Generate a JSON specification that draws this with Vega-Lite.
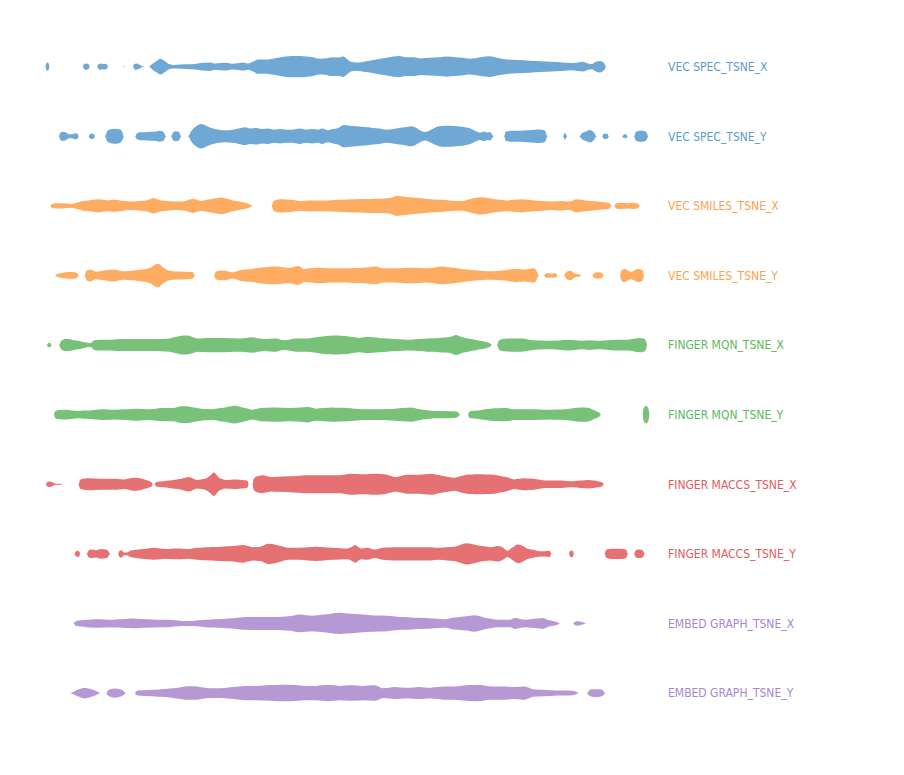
{
"$schema": "https://vega.github.io/schema/vega-lite/v6.json",
"padding": {"left": 40, "top": 37, "right": 0, "bottom": 0},
"background": "white",
"config": {"view": {"stroke": null}},
"spacing": 9.6,
"datasets": {"names": [
{"s":1,"series":"VEC SPEC_TSNE_X"},{"s":2,"series":"VEC SPEC_TSNE_Y"},{"s":3,"series":"VEC SMILES_TSNE_X"},{"s":4,"series":"VEC SMILES_TSNE_Y"},{"s":5,"series":"FINGER MQN_TSNE_X"},{"s":6,"series":"FINGER MQN_TSNE_Y"},{"s":7,"series":"FINGER MACCS_TSNE_X"},{"s":8,"series":"FINGER MACCS_TSNE_Y"},{"s":9,"series":"EMBED GRAPH_TSNE_X"},{"s":10,"series":"EMBED GRAPH_TSNE_Y"}
]},
"data": {"values": [
{"s":1,"x":45.5,"w":0},{"s":1,"x":46.3,"w":3},{"s":1,"x":47.5,"w":3.8},{"s":1,"x":48.7,"w":3},{"s":1,"x":49.5,"w":0},
{"s":1,"x":82.7,"w":0},{"s":1,"x":84,"w":2.5},{"s":1,"x":86.3,"w":3},{"s":1,"x":88.5,"w":2.5},{"s":1,"x":89.8,"w":0},
{"s":1,"x":97,"w":0},{"s":1,"x":98.5,"w":2.5},{"s":1,"x":101,"w":3},{"s":1,"x":103,"w":2.5},{"s":1,"x":105,"w":2.8},{"s":1,"x":107,"w":2.2},{"s":1,"x":108.2,"w":0},
{"s":1,"x":122.9,"w":0},{"s":1,"x":123.7,"w":0.6},{"s":1,"x":124.5,"w":0},
{"s":1,"x":133,"w":0},{"s":1,"x":134.2,"w":2.5},{"s":1,"x":136.5,"w":3},{"s":1,"x":139,"w":2.2},{"s":1,"x":141,"w":1.2},{"s":1,"x":144.5,"w":0},
{"s":1,"x":148.5,"w":0},{"s":1,"x":152,"w":2.5},{"s":1,"x":156,"w":5},{"s":1,"x":160.5,"w":7.2},{"s":1,"x":165,"w":5},{"s":1,"x":169,"w":2.5},{"s":1,"x":173,"w":1.8},{"s":1,"x":176,"w":2},{"s":1,"x":185,"w":2.4},{"s":1,"x":195,"w":2.7},{"s":1,"x":203,"w":3.6},{"s":1,"x":210,"w":4},{"s":1,"x":215,"w":3},{"s":1,"x":220,"w":3.4},{"s":1,"x":226,"w":3.6},{"s":1,"x":232,"w":2.8},{"s":1,"x":238,"w":3.3},{"s":1,"x":243,"w":3.8},{"s":1,"x":248,"w":3},{"s":1,"x":253,"w":4.5},{"s":1,"x":258,"w":6.5},{"s":1,"x":263,"w":6.5},{"s":1,"x":270,"w":6.8},{"s":1,"x":278,"w":8},{"s":1,"x":286,"w":9.2},{"s":1,"x":296,"w":9.5},{"s":1,"x":306,"w":9.2},{"s":1,"x":313,"w":8.5},{"s":1,"x":320,"w":7.2},{"s":1,"x":326,"w":7.5},{"s":1,"x":332,"w":8.5},{"s":1,"x":338,"w":8.2},{"s":1,"x":343,"w":9.2},{"s":1,"x":347,"w":7},{"s":1,"x":351,"w":4.5},{"s":1,"x":356,"w":3.8},{"s":1,"x":366,"w":5},{"s":1,"x":376,"w":6.5},{"s":1,"x":388,"w":8.2},{"s":1,"x":399,"w":9.5},{"s":1,"x":406,"w":8.5},{"s":1,"x":413,"w":8.5},{"s":1,"x":421,"w":7.5},{"s":1,"x":430,"w":8},{"s":1,"x":440,"w":8.5},{"s":1,"x":447,"w":9},{"s":1,"x":455,"w":8.5},{"s":1,"x":462,"w":8},{"s":1,"x":470,"w":7.2},{"s":1,"x":480,"w":8.5},{"s":1,"x":490,"w":9.3},{"s":1,"x":497,"w":8},{"s":1,"x":505,"w":6.8},{"s":1,"x":518,"w":6},{"s":1,"x":530,"w":5.5},{"s":1,"x":540,"w":5},{"s":1,"x":552,"w":4.5},{"s":1,"x":562,"w":4},{"s":1,"x":571,"w":3.5},{"s":1,"x":578,"w":4},{"s":1,"x":583,"w":4.5},{"s":1,"x":588,"w":3},{"s":1,"x":592,"w":2.5},{"s":1,"x":596,"w":4.5},{"s":1,"x":600,"w":5.3},{"s":1,"x":604,"w":3.5},{"s":1,"x":606,"w":0},
{"s":2,"x":59,"w":0},{"s":2,"x":60.5,"w":3.5},{"s":2,"x":63,"w":4.3},{"s":2,"x":66,"w":3.5},{"s":2,"x":69,"w":2},{"s":2,"x":72,"w":2},{"s":2,"x":75,"w":3},{"s":2,"x":77.5,"w":2.5},{"s":2,"x":78.8,"w":0},
{"s":2,"x":88.5,"w":0},{"s":2,"x":90,"w":2.2},{"s":2,"x":91.8,"w":2.7},{"s":2,"x":93.6,"w":2.2},{"s":2,"x":95.2,"w":0},
{"s":2,"x":105,"w":0},{"s":2,"x":107,"w":4.5},{"s":2,"x":110,"w":6.2},{"s":2,"x":114.5,"w":6.8},{"s":2,"x":119,"w":6.3},{"s":2,"x":122,"w":4.5},{"s":2,"x":124,"w":0},
{"s":2,"x":135,"w":0},{"s":2,"x":137,"w":3},{"s":2,"x":140,"w":3.7},{"s":2,"x":145,"w":3.8},{"s":2,"x":150,"w":4.3},{"s":2,"x":155,"w":4.3},{"s":2,"x":159.5,"w":5},{"s":2,"x":163,"w":4.5},{"s":2,"x":166.5,"w":0},
{"s":2,"x":171,"w":0},{"s":2,"x":173,"w":3.5},{"s":2,"x":176,"w":4.7},{"s":2,"x":179,"w":3.8},{"s":2,"x":181.5,"w":0},
{"s":2,"x":188,"w":0},{"s":2,"x":191.4,"w":5},{"s":2,"x":196,"w":9},{"s":2,"x":201,"w":11},{"s":2,"x":207,"w":9},{"s":2,"x":213,"w":7},{"s":2,"x":219,"w":6},{"s":2,"x":225,"w":5.5},{"s":2,"x":233,"w":6},{"s":2,"x":239,"w":7},{"s":2,"x":245,"w":8},{"s":2,"x":250,"w":7},{"s":2,"x":256.5,"w":7.5},{"s":2,"x":262,"w":6.5},{"s":2,"x":268,"w":7},{"s":2,"x":274,"w":6},{"s":2,"x":280,"w":6.5},{"s":2,"x":286,"w":6},{"s":2,"x":292,"w":6},{"s":2,"x":300,"w":7},{"s":2,"x":306,"w":6},{"s":2,"x":312,"w":6.5},{"s":2,"x":318,"w":6},{"s":2,"x":322,"w":7},{"s":2,"x":328,"w":5.5},{"s":2,"x":333,"w":6.5},{"s":2,"x":338,"w":7.5},{"s":2,"x":344,"w":10},{"s":2,"x":350,"w":9.5},{"s":2,"x":356,"w":9},{"s":2,"x":362,"w":8.5},{"s":2,"x":367.5,"w":8},{"s":2,"x":373,"w":7.5},{"s":2,"x":379.5,"w":7},{"s":2,"x":387,"w":6},{"s":2,"x":393,"w":6.5},{"s":2,"x":399,"w":7.5},{"s":2,"x":405,"w":8},{"s":2,"x":411,"w":9},{"s":2,"x":415,"w":8},{"s":2,"x":419,"w":6},{"s":2,"x":425,"w":4},{"s":2,"x":431,"w":6},{"s":2,"x":439,"w":9},{"s":2,"x":445,"w":9.5},{"s":2,"x":451,"w":9.5},{"s":2,"x":457,"w":9},{"s":2,"x":462.6,"w":8.5},{"s":2,"x":470.5,"w":7},{"s":2,"x":476.5,"w":4.5},{"s":2,"x":480,"w":3.5},{"s":2,"x":484,"w":4.5},{"s":2,"x":487,"w":3.5},{"s":2,"x":490,"w":4},{"s":2,"x":494,"w":0},
{"s":2,"x":504,"w":0},{"s":2,"x":506,"w":4.5},{"s":2,"x":512,"w":5},{"s":2,"x":520,"w":5},{"s":2,"x":528,"w":5.5},{"s":2,"x":535,"w":6},{"s":2,"x":540,"w":6.2},{"s":2,"x":545,"w":5},{"s":2,"x":547.6,"w":0},
{"s":2,"x":563,"w":0},{"s":2,"x":565,"w":3.3},{"s":2,"x":567.5,"w":0},
{"s":2,"x":579,"w":0},{"s":2,"x":582,"w":3},{"s":2,"x":586,"w":4.5},{"s":2,"x":590,"w":5.7},{"s":2,"x":594,"w":3.5},{"s":2,"x":596.7,"w":0},
{"s":2,"x":602,"w":0},{"s":2,"x":603.5,"w":2.2},{"s":2,"x":605.5,"w":2.7},{"s":2,"x":607.5,"w":2.2},{"s":2,"x":609,"w":0},
{"s":2,"x":622,"w":0},{"s":2,"x":623.5,"w":1.7},{"s":2,"x":625,"w":2},{"s":2,"x":626.5,"w":1.7},{"s":2,"x":628,"w":0},
{"s":2,"x":634,"w":0},{"s":2,"x":635.5,"w":3.5},{"s":2,"x":638,"w":4.8},{"s":2,"x":641,"w":5},{"s":2,"x":644,"w":4.8},{"s":2,"x":646.5,"w":3.5},{"s":2,"x":648,"w":0},
{"s":3,"x":50,"w":0},{"s":3,"x":52.8,"w":2.2},{"s":3,"x":57,"w":2.5},{"s":3,"x":62.7,"w":2.5},{"s":3,"x":70.7,"w":2},{"s":3,"x":78.6,"w":3.5},{"s":3,"x":83,"w":4.5},{"s":3,"x":88.5,"w":5},{"s":3,"x":93,"w":5.5},{"s":3,"x":98.4,"w":6},{"s":3,"x":103,"w":5.5},{"s":3,"x":108,"w":5},{"s":3,"x":112,"w":5.5},{"s":3,"x":116,"w":5.5},{"s":3,"x":120,"w":5},{"s":3,"x":124,"w":4.5},{"s":3,"x":129,"w":4},{"s":3,"x":134,"w":4},{"s":3,"x":140,"w":4.5},{"s":3,"x":146,"w":5},{"s":3,"x":150,"w":6},{"s":3,"x":153.6,"w":7},{"s":3,"x":157,"w":6},{"s":3,"x":161.5,"w":5},{"s":3,"x":167,"w":4.5},{"s":3,"x":173.5,"w":4},{"s":3,"x":179,"w":4},{"s":3,"x":185,"w":4.5},{"s":3,"x":189,"w":5.5},{"s":3,"x":193,"w":6.5},{"s":3,"x":197,"w":5.5},{"s":3,"x":201,"w":4.5},{"s":3,"x":207,"w":5.5},{"s":3,"x":213,"w":6.5},{"s":3,"x":217,"w":7},{"s":3,"x":221,"w":7.5},{"s":3,"x":227,"w":6.5},{"s":3,"x":233,"w":5},{"s":3,"x":239,"w":4},{"s":3,"x":244.6,"w":3},{"s":3,"x":249,"w":2},{"s":3,"x":252.8,"w":0},
{"s":3,"x":271.5,"w":0},{"s":3,"x":273,"w":3.5},{"s":3,"x":275,"w":5.2},{"s":3,"x":280,"w":6},{"s":3,"x":286,"w":5.8},{"s":3,"x":292,"w":5.5},{"s":3,"x":300,"w":4.5},{"s":3,"x":308,"w":5},{"s":3,"x":316,"w":5},{"s":3,"x":324,"w":5},{"s":3,"x":331,"w":5.2},{"s":3,"x":339.5,"w":5.5},{"s":3,"x":347,"w":5.8},{"s":3,"x":355.6,"w":6},{"s":3,"x":365,"w":6.2},{"s":3,"x":375,"w":6.5},{"s":3,"x":381,"w":6.5},{"s":3,"x":387,"w":6.8},{"s":3,"x":392,"w":7.5},{"s":3,"x":397,"w":9},{"s":3,"x":402,"w":8.5},{"s":3,"x":407,"w":8},{"s":3,"x":413,"w":7.5},{"s":3,"x":419,"w":7},{"s":3,"x":425,"w":6.5},{"s":3,"x":431,"w":6},{"s":3,"x":437,"w":5.8},{"s":3,"x":443,"w":5.5},{"s":3,"x":449,"w":5},{"s":3,"x":454.7,"w":4.5},{"s":3,"x":462.6,"w":4.5},{"s":3,"x":468,"w":5.5},{"s":3,"x":474.5,"w":7},{"s":3,"x":482,"w":7.8},{"s":3,"x":488,"w":7},{"s":3,"x":494,"w":6},{"s":3,"x":500,"w":5.5},{"s":3,"x":506,"w":5},{"s":3,"x":514,"w":5.5},{"s":3,"x":522,"w":6},{"s":3,"x":528,"w":5.5},{"s":3,"x":534,"w":5},{"s":3,"x":542,"w":4.5},{"s":3,"x":549.7,"w":4},{"s":3,"x":556,"w":4.2},{"s":3,"x":561.5,"w":4.5},{"s":3,"x":566,"w":4},{"s":3,"x":569.5,"w":4},{"s":3,"x":573,"w":5},{"s":3,"x":577,"w":6},{"s":3,"x":581,"w":5.5},{"s":3,"x":585,"w":5},{"s":3,"x":591,"w":4.5},{"s":3,"x":597,"w":4},{"s":3,"x":603,"w":3.5},{"s":3,"x":609,"w":3},{"s":3,"x":612,"w":0},
{"s":3,"x":614,"w":0},{"s":3,"x":616,"w":2.5},{"s":3,"x":622,"w":3},{"s":3,"x":628,"w":2.5},{"s":3,"x":633,"w":3},{"s":3,"x":637,"w":2.5},{"s":3,"x":640,"w":0},
{"s":4,"x":55,"w":0},{"s":4,"x":57,"w":1.5},{"s":4,"x":62,"w":2.5},{"s":4,"x":66,"w":3},{"s":4,"x":70,"w":3.2},{"s":4,"x":74,"w":3},{"s":4,"x":77,"w":2.5},{"s":4,"x":79,"w":0},
{"s":4,"x":84.5,"w":0},{"s":4,"x":86,"w":3.5},{"s":4,"x":88,"w":5},{"s":4,"x":90.5,"w":5.5},{"s":4,"x":93,"w":4.5},{"s":4,"x":96,"w":3.5},{"s":4,"x":100,"w":4},{"s":4,"x":104,"w":4.5},{"s":4,"x":108,"w":5},{"s":4,"x":112,"w":5.5},{"s":4,"x":117,"w":5},{"s":4,"x":122,"w":4},{"s":4,"x":128,"w":4.2},{"s":4,"x":134,"w":4.5},{"s":4,"x":138,"w":5},{"s":4,"x":142,"w":5.5},{"s":4,"x":146,"w":6},{"s":4,"x":150,"w":7},{"s":4,"x":153,"w":8.5},{"s":4,"x":155.6,"w":10},{"s":4,"x":158,"w":10.3},{"s":4,"x":159.6,"w":10},{"s":4,"x":162,"w":8},{"s":4,"x":165.5,"w":6},{"s":4,"x":169,"w":4.5},{"s":4,"x":173.5,"w":4},{"s":4,"x":179,"w":3.8},{"s":4,"x":185,"w":3.5},{"s":4,"x":190,"w":3.2},{"s":4,"x":193,"w":3},{"s":4,"x":195,"w":0},
{"s":4,"x":214,"w":0},{"s":4,"x":215.5,"w":3},{"s":4,"x":217,"w":4},{"s":4,"x":221,"w":4.5},{"s":4,"x":225,"w":4.5},{"s":4,"x":229,"w":3.5},{"s":4,"x":233,"w":3},{"s":4,"x":237,"w":4},{"s":4,"x":240.6,"w":5},{"s":4,"x":246,"w":5.5},{"s":4,"x":252.6,"w":6},{"s":4,"x":258,"w":6.8},{"s":4,"x":264.6,"w":7.5},{"s":4,"x":270,"w":7.8},{"s":4,"x":276.6,"w":8},{"s":4,"x":282,"w":7.5},{"s":4,"x":288,"w":7},{"s":4,"x":293,"w":7.5},{"s":4,"x":298,"w":8.5},{"s":4,"x":301,"w":7.5},{"s":4,"x":304,"w":6},{"s":4,"x":310,"w":6.5},{"s":4,"x":316,"w":7},{"s":4,"x":324,"w":6.8},{"s":4,"x":331.5,"w":6.5},{"s":4,"x":340,"w":6.5},{"s":4,"x":347.5,"w":6.5},{"s":4,"x":355,"w":6.8},{"s":4,"x":363,"w":7},{"s":4,"x":369,"w":7.5},{"s":4,"x":375,"w":8},{"s":4,"x":379,"w":7.5},{"s":4,"x":383,"w":6.5},{"s":4,"x":389,"w":6.5},{"s":4,"x":395,"w":6.5},{"s":4,"x":403,"w":6.8},{"s":4,"x":411,"w":7},{"s":4,"x":419,"w":6.8},{"s":4,"x":426.6,"w":6.5},{"s":4,"x":435,"w":7.2},{"s":4,"x":442.6,"w":8},{"s":4,"x":448,"w":7.5},{"s":4,"x":454.6,"w":7},{"s":4,"x":460,"w":6.2},{"s":4,"x":466.6,"w":5.5},{"s":4,"x":472,"w":5},{"s":4,"x":478,"w":4.5},{"s":4,"x":484,"w":4.2},{"s":4,"x":490,"w":4},{"s":4,"x":496,"w":4.2},{"s":4,"x":502,"w":4.5},{"s":4,"x":508,"w":5.2},{"s":4,"x":514,"w":6},{"s":4,"x":519,"w":5.8},{"s":4,"x":524,"w":5.5},{"s":4,"x":529,"w":6},{"s":4,"x":533.5,"w":6.5},{"s":4,"x":536,"w":5},{"s":4,"x":539,"w":0},
{"s":4,"x":544,"w":0},{"s":4,"x":545.5,"w":2},{"s":4,"x":548,"w":2.3},{"s":4,"x":551,"w":2},{"s":4,"x":554,"w":2.3},{"s":4,"x":556,"w":2},{"s":4,"x":557.5,"w":0},
{"s":4,"x":564,"w":0},{"s":4,"x":566,"w":3},{"s":4,"x":568,"w":4},{"s":4,"x":570,"w":4.3},{"s":4,"x":572,"w":3.8},{"s":4,"x":574,"w":2.5},{"s":4,"x":577,"w":1.5},{"s":4,"x":580,"w":1.2},{"s":4,"x":581.5,"w":0},
{"s":4,"x":592,"w":0},{"s":4,"x":594,"w":2.2},{"s":4,"x":596,"w":2.9},{"s":4,"x":598,"w":3},{"s":4,"x":600,"w":2.9},{"s":4,"x":602,"w":2.2},{"s":4,"x":604,"w":0},
{"s":4,"x":620,"w":0},{"s":4,"x":621,"w":4},{"s":4,"x":622.5,"w":5.5},{"s":4,"x":624.5,"w":6},{"s":4,"x":627,"w":5},{"s":4,"x":629,"w":4},{"s":4,"x":631,"w":3.5},{"s":4,"x":633,"w":4},{"s":4,"x":635,"w":5},{"s":4,"x":637,"w":5.8},{"s":4,"x":639,"w":6},{"s":4,"x":641,"w":5.5},{"s":4,"x":643,"w":4},{"s":4,"x":644,"w":0},
{"s":5,"x":47,"w":0},{"s":5,"x":48,"w":1.8},{"s":5,"x":49.3,"w":2.3},{"s":5,"x":50.6,"w":1.8},{"s":5,"x":51.6,"w":0},
{"s":5,"x":59,"w":0},{"s":5,"x":60.5,"w":3},{"s":5,"x":63,"w":5},{"s":5,"x":66.7,"w":5.7},{"s":5,"x":70,"w":5.3},{"s":5,"x":74,"w":4.5},{"s":5,"x":78.5,"w":4},{"s":5,"x":82,"w":3.2},{"s":5,"x":86.5,"w":2.5},{"s":5,"x":89.6,"w":1.8},{"s":5,"x":91.5,"w":2.5},{"s":5,"x":94.3,"w":4.5},{"s":5,"x":100,"w":5},{"s":5,"x":106,"w":5},{"s":5,"x":114,"w":5.2},{"s":5,"x":120,"w":5.5},{"s":5,"x":126,"w":5.5},{"s":5,"x":134,"w":5.5},{"s":5,"x":142,"w":5.5},{"s":5,"x":150,"w":5.5},{"s":5,"x":157.6,"w":5.5},{"s":5,"x":164,"w":5.8},{"s":5,"x":169.5,"w":6},{"s":5,"x":174,"w":7},{"s":5,"x":179,"w":8},{"s":5,"x":183,"w":8.5},{"s":5,"x":187,"w":8.5},{"s":5,"x":192,"w":7.5},{"s":5,"x":197,"w":6},{"s":5,"x":203,"w":6.3},{"s":5,"x":209,"w":6.5},{"s":5,"x":217,"w":6.5},{"s":5,"x":225,"w":6.5},{"s":5,"x":233,"w":6.2},{"s":5,"x":240.6,"w":6},{"s":5,"x":246,"w":6.5},{"s":5,"x":252.5,"w":7},{"s":5,"x":258,"w":6.2},{"s":5,"x":264.6,"w":5.5},{"s":5,"x":270,"w":5.8},{"s":5,"x":276.6,"w":6},{"s":5,"x":280,"w":5.2},{"s":5,"x":284,"w":4.5},{"s":5,"x":290,"w":5.2},{"s":5,"x":296,"w":6},{"s":5,"x":302,"w":6},{"s":5,"x":308,"w":6},{"s":5,"x":316,"w":7},{"s":5,"x":324,"w":8},{"s":5,"x":330,"w":8.3},{"s":5,"x":335.5,"w":8.5},{"s":5,"x":341,"w":8.3},{"s":5,"x":347.5,"w":8},{"s":5,"x":353,"w":7.2},{"s":5,"x":359.6,"w":6.5},{"s":5,"x":364,"w":7},{"s":5,"x":367.5,"w":7.5},{"s":5,"x":373,"w":7},{"s":5,"x":379.5,"w":6.5},{"s":5,"x":387,"w":6},{"s":5,"x":395,"w":5.5},{"s":5,"x":403,"w":5.2},{"s":5,"x":411,"w":5},{"s":5,"x":419,"w":5.5},{"s":5,"x":427,"w":6},{"s":5,"x":433,"w":6.2},{"s":5,"x":439,"w":6.5},{"s":5,"x":445,"w":6.8},{"s":5,"x":450,"w":7.2},{"s":5,"x":456,"w":9},{"s":5,"x":459,"w":8.2},{"s":5,"x":462.6,"w":7},{"s":5,"x":468,"w":6},{"s":5,"x":474.5,"w":5},{"s":5,"x":480,"w":4},{"s":5,"x":486,"w":3},{"s":5,"x":490,"w":1.8},{"s":5,"x":492,"w":0},
{"s":5,"x":497,"w":0},{"s":5,"x":498.5,"w":3.5},{"s":5,"x":500,"w":5},{"s":5,"x":505,"w":5.7},{"s":5,"x":510,"w":6},{"s":5,"x":516,"w":6},{"s":5,"x":522,"w":6},{"s":5,"x":528,"w":5.2},{"s":5,"x":533.5,"w":4.5},{"s":5,"x":541,"w":4.2},{"s":5,"x":549.6,"w":4},{"s":5,"x":556,"w":4.2},{"s":5,"x":561.5,"w":4.5},{"s":5,"x":565,"w":4.8},{"s":5,"x":569.5,"w":5},{"s":5,"x":575,"w":4.5},{"s":5,"x":581,"w":4},{"s":5,"x":585,"w":4.2},{"s":5,"x":589,"w":4.5},{"s":5,"x":594,"w":4.2},{"s":5,"x":600,"w":4},{"s":5,"x":608,"w":4.5},{"s":5,"x":616,"w":5},{"s":5,"x":622,"w":5},{"s":5,"x":628,"w":5},{"s":5,"x":634,"w":5.8},{"s":5,"x":640,"w":6.5},{"s":5,"x":643.5,"w":6},{"s":5,"x":645.7,"w":4.5},{"s":5,"x":647,"w":0},
{"s":6,"x":54,"w":0},{"s":6,"x":55,"w":3},{"s":6,"x":56.8,"w":4},{"s":6,"x":61,"w":4.3},{"s":6,"x":66.7,"w":4.5},{"s":6,"x":72,"w":4},{"s":6,"x":78.6,"w":3.5},{"s":6,"x":84,"w":3.8},{"s":6,"x":90.5,"w":4},{"s":6,"x":96,"w":4.5},{"s":6,"x":102,"w":5},{"s":6,"x":108,"w":4.8},{"s":6,"x":114,"w":4.5},{"s":6,"x":120,"w":4.8},{"s":6,"x":126,"w":5},{"s":6,"x":132,"w":5.3},{"s":6,"x":138,"w":5.5},{"s":6,"x":144,"w":5.2},{"s":6,"x":149.7,"w":5},{"s":6,"x":156,"w":5.5},{"s":6,"x":161.6,"w":6},{"s":6,"x":167,"w":6},{"s":6,"x":173.5,"w":6},{"s":6,"x":177,"w":6.8},{"s":6,"x":181.5,"w":7.5},{"s":6,"x":186,"w":7.5},{"s":6,"x":191,"w":7},{"s":6,"x":196,"w":6.2},{"s":6,"x":201,"w":5.5},{"s":6,"x":207,"w":5.2},{"s":6,"x":213,"w":5},{"s":6,"x":219,"w":5.8},{"s":6,"x":225,"w":6.5},{"s":6,"x":230,"w":7.3},{"s":6,"x":235,"w":8},{"s":6,"x":240,"w":7.2},{"s":6,"x":245,"w":6},{"s":6,"x":249,"w":5.2},{"s":6,"x":252.5,"w":4.5},{"s":6,"x":256,"w":5.2},{"s":6,"x":260.5,"w":6},{"s":6,"x":268,"w":6.3},{"s":6,"x":276,"w":6.5},{"s":6,"x":284,"w":6.2},{"s":6,"x":292,"w":6},{"s":6,"x":300,"w":6.5},{"s":6,"x":308,"w":7},{"s":6,"x":312,"w":6.2},{"s":6,"x":316,"w":5.5},{"s":6,"x":324,"w":6},{"s":6,"x":331.5,"w":6.5},{"s":6,"x":340,"w":6.2},{"s":6,"x":347.5,"w":6},{"s":6,"x":355,"w":5.5},{"s":6,"x":363,"w":5},{"s":6,"x":371,"w":5},{"s":6,"x":379,"w":5},{"s":6,"x":387,"w":5.2},{"s":6,"x":395,"w":5.5},{"s":6,"x":403,"w":6},{"s":6,"x":411,"w":6.5},{"s":6,"x":417,"w":5.5},{"s":6,"x":423,"w":4.5},{"s":6,"x":429,"w":4},{"s":6,"x":434.5,"w":3.5},{"s":6,"x":441,"w":3.5},{"s":6,"x":446.6,"w":3.5},{"s":6,"x":452,"w":3.2},{"s":6,"x":456,"w":3},{"s":6,"x":458.5,"w":2},{"s":6,"x":460,"w":0},
{"s":6,"x":468,"w":0},{"s":6,"x":469,"w":2.5},{"s":6,"x":471,"w":3.5},{"s":6,"x":478,"w":4},{"s":6,"x":484,"w":4.8},{"s":6,"x":490,"w":5.5},{"s":6,"x":498,"w":5.8},{"s":6,"x":506,"w":6},{"s":6,"x":510,"w":5.5},{"s":6,"x":514,"w":5},{"s":6,"x":522,"w":5},{"s":6,"x":530,"w":5},{"s":6,"x":540,"w":4.8},{"s":6,"x":549.6,"w":4.5},{"s":6,"x":557,"w":4.8},{"s":6,"x":565.5,"w":5},{"s":6,"x":573,"w":5.8},{"s":6,"x":581,"w":6.5},{"s":6,"x":585,"w":6.5},{"s":6,"x":589,"w":6},{"s":6,"x":593,"w":4.5},{"s":6,"x":597,"w":3},{"s":6,"x":599.5,"w":2},{"s":6,"x":601,"w":0},
{"s":6,"x":642.6,"w":0},{"s":6,"x":643.3,"w":4.5},{"s":6,"x":644.5,"w":7},{"s":6,"x":646,"w":8},{"s":6,"x":647.5,"w":7},{"s":6,"x":648.7,"w":4.5},{"s":6,"x":649.4,"w":0},
{"s":7,"x":46,"w":0},{"s":7,"x":47,"w":2},{"s":7,"x":49,"w":2.7},{"s":7,"x":51,"w":2.5},{"s":7,"x":53,"w":1.5},{"s":7,"x":56,"w":0.8},{"s":7,"x":60,"w":0.8},{"s":7,"x":62.7,"w":0},
{"s":7,"x":78.5,"w":0},{"s":7,"x":79.5,"w":3},{"s":7,"x":80.5,"w":4.5},{"s":7,"x":85,"w":5.2},{"s":7,"x":90.5,"w":5.5},{"s":7,"x":96,"w":5.2},{"s":7,"x":102,"w":5},{"s":7,"x":108,"w":5},{"s":7,"x":114,"w":5},{"s":7,"x":119,"w":4.8},{"s":7,"x":124,"w":4.5},{"s":7,"x":129,"w":5.2},{"s":7,"x":134,"w":6},{"s":7,"x":138,"w":5.7},{"s":7,"x":142,"w":5},{"s":7,"x":146,"w":4},{"s":7,"x":149.7,"w":3},{"s":7,"x":151.5,"w":2},{"s":7,"x":153,"w":0},
{"s":7,"x":154.6,"w":0},{"s":7,"x":155.5,"w":1.5},{"s":7,"x":157.6,"w":2.5},{"s":7,"x":163,"w":3},{"s":7,"x":169.5,"w":3.5},{"s":7,"x":175,"w":4.2},{"s":7,"x":181.5,"w":5},{"s":7,"x":185,"w":6},{"s":7,"x":189,"w":6.5},{"s":7,"x":193,"w":5.2},{"s":7,"x":197,"w":4},{"s":7,"x":201,"w":4.5},{"s":7,"x":205,"w":5},{"s":7,"x":209,"w":7},{"s":7,"x":212,"w":9.5},{"s":7,"x":214,"w":10.5},{"s":7,"x":216,"w":9},{"s":7,"x":219,"w":6},{"s":7,"x":222,"w":4.8},{"s":7,"x":225,"w":4},{"s":7,"x":231,"w":4.3},{"s":7,"x":237,"w":4.5},{"s":7,"x":242,"w":4},{"s":7,"x":246.6,"w":3.5},{"s":7,"x":248,"w":2.5},{"s":7,"x":248.6,"w":0},
{"s":7,"x":252.6,"w":0},{"s":7,"x":253.3,"w":4},{"s":7,"x":254.6,"w":6},{"s":7,"x":258,"w":7.5},{"s":7,"x":262.6,"w":8},{"s":7,"x":267,"w":7.2},{"s":7,"x":272,"w":6.5},{"s":7,"x":278,"w":6.8},{"s":7,"x":284,"w":7},{"s":7,"x":290,"w":7.2},{"s":7,"x":296,"w":7.5},{"s":7,"x":302,"w":7.8},{"s":7,"x":308,"w":8},{"s":7,"x":316,"w":8},{"s":7,"x":324,"w":8},{"s":7,"x":332,"w":8},{"s":7,"x":339.5,"w":8},{"s":7,"x":345,"w":8.8},{"s":7,"x":351,"w":9.5},{"s":7,"x":357,"w":9.2},{"s":7,"x":363,"w":9},{"s":7,"x":369,"w":9.2},{"s":7,"x":375,"w":9.5},{"s":7,"x":381,"w":9.2},{"s":7,"x":387,"w":8.5},{"s":7,"x":391,"w":7.5},{"s":7,"x":395,"w":6.5},{"s":7,"x":401,"w":7.5},{"s":7,"x":407,"w":8.5},{"s":7,"x":413,"w":8.5},{"s":7,"x":419,"w":8.5},{"s":7,"x":425,"w":9},{"s":7,"x":431,"w":9.5},{"s":7,"x":437,"w":8.5},{"s":7,"x":443,"w":7.5},{"s":7,"x":449,"w":6.5},{"s":7,"x":454.6,"w":6},{"s":7,"x":460,"w":7.2},{"s":7,"x":466.6,"w":8.5},{"s":7,"x":472,"w":8.8},{"s":7,"x":478,"w":9},{"s":7,"x":486,"w":8.8},{"s":7,"x":494,"w":8.5},{"s":7,"x":500,"w":7.5},{"s":7,"x":506,"w":6.5},{"s":7,"x":510,"w":5.5},{"s":7,"x":514,"w":4.5},{"s":7,"x":519,"w":5},{"s":7,"x":524,"w":5.5},{"s":7,"x":529,"w":5.2},{"s":7,"x":533.5,"w":5},{"s":7,"x":540,"w":4.2},{"s":7,"x":545.6,"w":3.5},{"s":7,"x":553,"w":3.5},{"s":7,"x":561.5,"w":3.5},{"s":7,"x":567,"w":3.2},{"s":7,"x":573,"w":3},{"s":7,"x":581,"w":3.5},{"s":7,"x":589,"w":4},{"s":7,"x":594,"w":3.5},{"s":7,"x":598,"w":3},{"s":7,"x":602,"w":2},{"s":7,"x":604,"w":0},
{"s":8,"x":74.6,"w":0},{"s":8,"x":75.8,"w":2.3},{"s":8,"x":77.5,"w":3},{"s":8,"x":79.2,"w":2.3},{"s":8,"x":80.5,"w":0},
{"s":8,"x":86.5,"w":0},{"s":8,"x":88.5,"w":3},{"s":8,"x":91,"w":4},{"s":8,"x":96,"w":3.5},{"s":8,"x":101,"w":4.5},{"s":8,"x":106,"w":4},{"s":8,"x":108.5,"w":2.5},{"s":8,"x":110,"w":0},
{"s":8,"x":118,"w":0},{"s":8,"x":119.5,"w":3},{"s":8,"x":121.5,"w":3.5},{"s":8,"x":124,"w":1.5},{"s":8,"x":127,"w":1.5},{"s":8,"x":130,"w":3},{"s":8,"x":136,"w":3.8},{"s":8,"x":142,"w":4.5},{"s":8,"x":148,"w":5},{"s":8,"x":153.6,"w":5.5},{"s":8,"x":160,"w":5},{"s":8,"x":165.5,"w":4.5},{"s":8,"x":171,"w":4.8},{"s":8,"x":177.5,"w":5},{"s":8,"x":183,"w":4.8},{"s":8,"x":189,"w":4.5},{"s":8,"x":193,"w":5},{"s":8,"x":197,"w":5.5},{"s":8,"x":203,"w":5.8},{"s":8,"x":209,"w":6},{"s":8,"x":215,"w":6.2},{"s":8,"x":221,"w":6.5},{"s":8,"x":227,"w":6.8},{"s":8,"x":233,"w":7},{"s":8,"x":238,"w":7.5},{"s":8,"x":243,"w":8},{"s":8,"x":248,"w":7},{"s":8,"x":252.5,"w":6},{"s":8,"x":256,"w":6.2},{"s":8,"x":260.5,"w":6.5},{"s":8,"x":264,"w":7.8},{"s":8,"x":268,"w":9},{"s":8,"x":272,"w":8.8},{"s":8,"x":276.6,"w":8},{"s":8,"x":282,"w":6.8},{"s":8,"x":288,"w":5.5},{"s":8,"x":294,"w":5.5},{"s":8,"x":300,"w":5.5},{"s":8,"x":308,"w":6},{"s":8,"x":316,"w":6.5},{"s":8,"x":324,"w":6},{"s":8,"x":331.5,"w":5.5},{"s":8,"x":340,"w":5.2},{"s":8,"x":347.5,"w":5},{"s":8,"x":352,"w":6.5},{"s":8,"x":355.5,"w":8},{"s":8,"x":358,"w":6.5},{"s":8,"x":361,"w":5},{"s":8,"x":364,"w":5.2},{"s":8,"x":367.5,"w":5.5},{"s":8,"x":371,"w":4.8},{"s":8,"x":375,"w":4},{"s":8,"x":379,"w":4.8},{"s":8,"x":383,"w":5.5},{"s":8,"x":389,"w":5.8},{"s":8,"x":395,"w":6},{"s":8,"x":403,"w":6},{"s":8,"x":411,"w":6},{"s":8,"x":419,"w":6},{"s":8,"x":427,"w":6},{"s":8,"x":433,"w":5.8},{"s":8,"x":439,"w":5.5},{"s":8,"x":447,"w":6},{"s":8,"x":454.6,"w":6.5},{"s":8,"x":460,"w":8},{"s":8,"x":466.6,"w":9.5},{"s":8,"x":472,"w":8.8},{"s":8,"x":478,"w":7.5},{"s":8,"x":484,"w":6.8},{"s":8,"x":490,"w":6},{"s":8,"x":494,"w":6.5},{"s":8,"x":498,"w":7},{"s":8,"x":503,"w":5.5},{"s":8,"x":507.5,"w":3},{"s":8,"x":512,"w":5.5},{"s":8,"x":518,"w":8.5},{"s":8,"x":523,"w":7},{"s":8,"x":527,"w":5},{"s":8,"x":532,"w":4},{"s":8,"x":537,"w":3},{"s":8,"x":541,"w":2.5},{"s":8,"x":545.6,"w":2.5},{"s":8,"x":548,"w":3},{"s":8,"x":549.6,"w":3},{"s":8,"x":551.6,"w":0},
{"s":8,"x":569,"w":0},{"s":8,"x":570,"w":2.5},{"s":8,"x":571.5,"w":3.3},{"s":8,"x":573,"w":2.5},{"s":8,"x":574,"w":0},
{"s":8,"x":604.5,"w":0},{"s":8,"x":606,"w":3.5},{"s":8,"x":609,"w":4.5},{"s":8,"x":614,"w":4.7},{"s":8,"x":619,"w":4.7},{"s":8,"x":624,"w":4.5},{"s":8,"x":626.5,"w":3.5},{"s":8,"x":628,"w":0},
{"s":8,"x":634,"w":0},{"s":8,"x":635.5,"w":3},{"s":8,"x":638,"w":4},{"s":8,"x":641,"w":3.8},{"s":8,"x":643,"w":3},{"s":8,"x":644.5,"w":0},
{"s":9,"x":73.8,"w":0},{"s":9,"x":75,"w":1.8},{"s":9,"x":76.6,"w":2.5},{"s":9,"x":81,"w":3},{"s":9,"x":86.5,"w":3.5},{"s":9,"x":92,"w":3.8},{"s":9,"x":98.4,"w":4},{"s":9,"x":104,"w":3.8},{"s":9,"x":110,"w":3.5},{"s":9,"x":116,"w":3.8},{"s":9,"x":122,"w":4},{"s":9,"x":128,"w":4.3},{"s":9,"x":134,"w":4.5},{"s":9,"x":140,"w":4.2},{"s":9,"x":146,"w":4},{"s":9,"x":152,"w":3.8},{"s":9,"x":157.6,"w":3.5},{"s":9,"x":163,"w":3.5},{"s":9,"x":169.5,"w":3.5},{"s":9,"x":175,"w":3},{"s":9,"x":181.5,"w":2.5},{"s":9,"x":187,"w":2.5},{"s":9,"x":193,"w":2.5},{"s":9,"x":199,"w":3},{"s":9,"x":205,"w":3.5},{"s":9,"x":211,"w":3.8},{"s":9,"x":217,"w":4},{"s":9,"x":223,"w":4.2},{"s":9,"x":229,"w":4.5},{"s":9,"x":235,"w":5},{"s":9,"x":240.6,"w":5.5},{"s":9,"x":246,"w":5.8},{"s":9,"x":252.5,"w":6},{"s":9,"x":258,"w":6},{"s":9,"x":264.6,"w":6},{"s":9,"x":270,"w":6},{"s":9,"x":276.6,"w":6},{"s":9,"x":282,"w":6.2},{"s":9,"x":288,"w":6.5},{"s":9,"x":294,"w":7.2},{"s":9,"x":300,"w":8},{"s":9,"x":306,"w":7.5},{"s":9,"x":312,"w":7},{"s":9,"x":318,"w":7.5},{"s":9,"x":324,"w":8},{"s":9,"x":331,"w":8.8},{"s":9,"x":339.5,"w":9.5},{"s":9,"x":347,"w":9},{"s":9,"x":355.5,"w":8.5},{"s":9,"x":363,"w":8},{"s":9,"x":371,"w":7.5},{"s":9,"x":379,"w":7.2},{"s":9,"x":387,"w":7},{"s":9,"x":393,"w":6.5},{"s":9,"x":399,"w":6},{"s":9,"x":405,"w":5.8},{"s":9,"x":411,"w":5.5},{"s":9,"x":417,"w":5.2},{"s":9,"x":423,"w":5},{"s":9,"x":429,"w":4.8},{"s":9,"x":434.5,"w":4.5},{"s":9,"x":440,"w":4.2},{"s":9,"x":446.5,"w":4},{"s":9,"x":450,"w":4.8},{"s":9,"x":454.6,"w":5.5},{"s":9,"x":460,"w":6},{"s":9,"x":466.6,"w":6.5},{"s":9,"x":470,"w":7},{"s":9,"x":474.5,"w":7.5},{"s":9,"x":480,"w":6.5},{"s":9,"x":486,"w":5},{"s":9,"x":492,"w":4.2},{"s":9,"x":498,"w":3.5},{"s":9,"x":504,"w":3.5},{"s":9,"x":510,"w":3.5},{"s":9,"x":515,"w":5},{"s":9,"x":520,"w":4.2},{"s":9,"x":525,"w":3.5},{"s":9,"x":531,"w":4},{"s":9,"x":537,"w":4.5},{"s":9,"x":543,"w":5},{"s":9,"x":546,"w":4},{"s":9,"x":549,"w":3},{"s":9,"x":555,"w":2},{"s":9,"x":558.5,"w":1},{"s":9,"x":560,"w":0},
{"s":9,"x":573,"w":0},{"s":9,"x":575,"w":1.8},{"s":9,"x":578,"w":2.2},{"s":9,"x":582,"w":1.5},{"s":9,"x":586,"w":0},
{"s":10,"x":70.6,"w":0},{"s":10,"x":74,"w":1.5},{"s":10,"x":79,"w":3.5},{"s":10,"x":84.5,"w":5},{"s":10,"x":90,"w":4},{"s":10,"x":95,"w":2.5},{"s":10,"x":98,"w":1.2},{"s":10,"x":100,"w":0},
{"s":10,"x":106,"w":0},{"s":10,"x":108,"w":2.5},{"s":10,"x":111,"w":3.8},{"s":10,"x":115,"w":4.3},{"s":10,"x":119,"w":3.8},{"s":10,"x":123,"w":2.5},{"s":10,"x":126,"w":0},
{"s":10,"x":135,"w":0},{"s":10,"x":136,"w":1.8},{"s":10,"x":138,"w":2.5},{"s":10,"x":144,"w":2.8},{"s":10,"x":149.7,"w":3},{"s":10,"x":155,"w":3.2},{"s":10,"x":161.6,"w":3.5},{"s":10,"x":167,"w":4},{"s":10,"x":173.5,"w":4.5},{"s":10,"x":179,"w":5.2},{"s":10,"x":185,"w":6},{"s":10,"x":191,"w":6.2},{"s":10,"x":197,"w":6},{"s":10,"x":203,"w":5.2},{"s":10,"x":209,"w":4.5},{"s":10,"x":215,"w":4.5},{"s":10,"x":221,"w":4.5},{"s":10,"x":227,"w":5},{"s":10,"x":233,"w":5.5},{"s":10,"x":239,"w":6},{"s":10,"x":245,"w":6.5},{"s":10,"x":251,"w":6.5},{"s":10,"x":257,"w":6.5},{"s":10,"x":263,"w":6.8},{"s":10,"x":268.5,"w":7},{"s":10,"x":274,"w":7.2},{"s":10,"x":280,"w":7.5},{"s":10,"x":286,"w":7.5},{"s":10,"x":292,"w":7.5},{"s":10,"x":298,"w":7},{"s":10,"x":304,"w":6.5},{"s":10,"x":310,"w":6.5},{"s":10,"x":316,"w":6.5},{"s":10,"x":322,"w":7},{"s":10,"x":328,"w":7.5},{"s":10,"x":334,"w":7},{"s":10,"x":339.5,"w":6.5},{"s":10,"x":345,"w":6.8},{"s":10,"x":351,"w":7},{"s":10,"x":357,"w":6.8},{"s":10,"x":363,"w":6.5},{"s":10,"x":369,"w":6.8},{"s":10,"x":375,"w":7},{"s":10,"x":379,"w":5.8},{"s":10,"x":383,"w":4.5},{"s":10,"x":389,"w":5},{"s":10,"x":395,"w":5.5},{"s":10,"x":401,"w":5.2},{"s":10,"x":407,"w":5},{"s":10,"x":413,"w":5.2},{"s":10,"x":419,"w":5.5},{"s":10,"x":425,"w":5.2},{"s":10,"x":431,"w":5},{"s":10,"x":437,"w":5.5},{"s":10,"x":443,"w":6},{"s":10,"x":449,"w":6},{"s":10,"x":454.6,"w":6},{"s":10,"x":460,"w":6.5},{"s":10,"x":466.6,"w":7},{"s":10,"x":472,"w":7.2},{"s":10,"x":478,"w":7.5},{"s":10,"x":484,"w":6.8},{"s":10,"x":490,"w":6},{"s":10,"x":496,"w":6},{"s":10,"x":502,"w":6},{"s":10,"x":508,"w":5.8},{"s":10,"x":514,"w":5.5},{"s":10,"x":520,"w":5.8},{"s":10,"x":525,"w":6},{"s":10,"x":529,"w":4.8},{"s":10,"x":533.5,"w":3.5},{"s":10,"x":540,"w":3.2},{"s":10,"x":545.6,"w":3},{"s":10,"x":551,"w":2.8},{"s":10,"x":557.5,"w":2.5},{"s":10,"x":563,"w":2.5},{"s":10,"x":569.5,"w":2.5},{"s":10,"x":575,"w":1.8},{"s":10,"x":579,"w":0},
{"s":10,"x":587,"w":0},{"s":10,"x":589,"w":2.5},{"s":10,"x":592,"w":3.5},{"s":10,"x":596,"w":3.7},{"s":10,"x":600,"w":3.5},{"s":10,"x":603,"w":2.5},{"s":10,"x":605,"w":0}
]},
"vconcat": [
{"width":615,"height":60,"transform":[{"filter":"datum.s == 1"}],"resolve":{"scale":{"y":"independent"}},"layer":[
 {"mark":{"type":"area","interpolate":"monotone","color":"#6fa8d4"},"encoding":{"x":{"field":"x","type":"quantitative","scale":{"domain":[40,655],"nice":false,"zero":false},"axis":null},"y":{"field":"w","type":"quantitative","scale":{"domain":[-26,26],"nice":false,"zero":false},"axis":null},"y2":{"datum":0}}},
 {"mark":{"type":"area","interpolate":"monotone","color":"#6fa8d4"},"encoding":{"x":{"field":"x","type":"quantitative","scale":{"domain":[40,655],"nice":false,"zero":false},"axis":null},"y":{"field":"w","type":"quantitative","scale":{"domain":[-25.4,26.6],"nice":false,"zero":false,"reverse":true},"axis":null},"y2":{"datum":0}}},
 {"data":{"name":"names"},"transform":[{"filter":"datum.s == 1"}],"mark":{"type":"text","align":"left","baseline":"middle","dx":13,"font":"Liberation Sans Narrow, DejaVu Sans Condensed, sans-serif","fontSize":12,"color":"#5b9bd0"},"encoding":{"x":{"datum":655,"type":"quantitative","scale":{"domain":[40,655],"nice":false,"zero":false},"axis":null},"y":{"datum":0,"type":"quantitative","scale":{"domain":[-26,26],"nice":false,"zero":false},"axis":null},"text":{"field":"series"}}}
]},
{"width":615,"height":60,"transform":[{"filter":"datum.s == 2"}],"resolve":{"scale":{"y":"independent"}},"layer":[
 {"mark":{"type":"area","interpolate":"monotone","color":"#6fa8d4"},"encoding":{"x":{"field":"x","type":"quantitative","scale":{"domain":[40,655],"nice":false,"zero":false},"axis":null},"y":{"field":"w","type":"quantitative","scale":{"domain":[-26,26],"nice":false,"zero":false},"axis":null},"y2":{"datum":0}}},
 {"mark":{"type":"area","interpolate":"monotone","color":"#6fa8d4"},"encoding":{"x":{"field":"x","type":"quantitative","scale":{"domain":[40,655],"nice":false,"zero":false},"axis":null},"y":{"field":"w","type":"quantitative","scale":{"domain":[-25.4,26.6],"nice":false,"zero":false,"reverse":true},"axis":null},"y2":{"datum":0}}},
 {"data":{"name":"names"},"transform":[{"filter":"datum.s == 2"}],"mark":{"type":"text","align":"left","baseline":"middle","dx":13,"font":"Liberation Sans Narrow, DejaVu Sans Condensed, sans-serif","fontSize":12,"color":"#5b9bd0"},"encoding":{"x":{"datum":655,"type":"quantitative","scale":{"domain":[40,655],"nice":false,"zero":false},"axis":null},"y":{"datum":0,"type":"quantitative","scale":{"domain":[-26,26],"nice":false,"zero":false},"axis":null},"text":{"field":"series"}}}
]},
{"width":615,"height":60,"transform":[{"filter":"datum.s == 3"}],"resolve":{"scale":{"y":"independent"}},"layer":[
 {"mark":{"type":"area","interpolate":"monotone","color":"#ffac63"},"encoding":{"x":{"field":"x","type":"quantitative","scale":{"domain":[40,655],"nice":false,"zero":false},"axis":null},"y":{"field":"w","type":"quantitative","scale":{"domain":[-26,26],"nice":false,"zero":false},"axis":null},"y2":{"datum":0}}},
 {"mark":{"type":"area","interpolate":"monotone","color":"#ffac63"},"encoding":{"x":{"field":"x","type":"quantitative","scale":{"domain":[40,655],"nice":false,"zero":false},"axis":null},"y":{"field":"w","type":"quantitative","scale":{"domain":[-25.4,26.6],"nice":false,"zero":false,"reverse":true},"axis":null},"y2":{"datum":0}}},
 {"data":{"name":"names"},"transform":[{"filter":"datum.s == 3"}],"mark":{"type":"text","align":"left","baseline":"middle","dx":13,"font":"Liberation Sans Narrow, DejaVu Sans Condensed, sans-serif","fontSize":12,"color":"#ffa04d"},"encoding":{"x":{"datum":655,"type":"quantitative","scale":{"domain":[40,655],"nice":false,"zero":false},"axis":null},"y":{"datum":0,"type":"quantitative","scale":{"domain":[-26,26],"nice":false,"zero":false},"axis":null},"text":{"field":"series"}}}
]},
{"width":615,"height":60,"transform":[{"filter":"datum.s == 4"}],"resolve":{"scale":{"y":"independent"}},"layer":[
 {"mark":{"type":"area","interpolate":"monotone","color":"#ffac63"},"encoding":{"x":{"field":"x","type":"quantitative","scale":{"domain":[40,655],"nice":false,"zero":false},"axis":null},"y":{"field":"w","type":"quantitative","scale":{"domain":[-26,26],"nice":false,"zero":false},"axis":null},"y2":{"datum":0}}},
 {"mark":{"type":"area","interpolate":"monotone","color":"#ffac63"},"encoding":{"x":{"field":"x","type":"quantitative","scale":{"domain":[40,655],"nice":false,"zero":false},"axis":null},"y":{"field":"w","type":"quantitative","scale":{"domain":[-25.4,26.6],"nice":false,"zero":false,"reverse":true},"axis":null},"y2":{"datum":0}}},
 {"data":{"name":"names"},"transform":[{"filter":"datum.s == 4"}],"mark":{"type":"text","align":"left","baseline":"middle","dx":13,"font":"Liberation Sans Narrow, DejaVu Sans Condensed, sans-serif","fontSize":12,"color":"#ffa04d"},"encoding":{"x":{"datum":655,"type":"quantitative","scale":{"domain":[40,655],"nice":false,"zero":false},"axis":null},"y":{"datum":0,"type":"quantitative","scale":{"domain":[-26,26],"nice":false,"zero":false},"axis":null},"text":{"field":"series"}}}
]},
{"width":615,"height":60,"transform":[{"filter":"datum.s == 5"}],"resolve":{"scale":{"y":"independent"}},"layer":[
 {"mark":{"type":"area","interpolate":"monotone","color":"#77c178"},"encoding":{"x":{"field":"x","type":"quantitative","scale":{"domain":[40,655],"nice":false,"zero":false},"axis":null},"y":{"field":"w","type":"quantitative","scale":{"domain":[-26,26],"nice":false,"zero":false},"axis":null},"y2":{"datum":0}}},
 {"mark":{"type":"area","interpolate":"monotone","color":"#77c178"},"encoding":{"x":{"field":"x","type":"quantitative","scale":{"domain":[40,655],"nice":false,"zero":false},"axis":null},"y":{"field":"w","type":"quantitative","scale":{"domain":[-25.4,26.6],"nice":false,"zero":false,"reverse":true},"axis":null},"y2":{"datum":0}}},
 {"data":{"name":"names"},"transform":[{"filter":"datum.s == 5"}],"mark":{"type":"text","align":"left","baseline":"middle","dx":13,"font":"Liberation Sans Narrow, DejaVu Sans Condensed, sans-serif","fontSize":12,"color":"#5cb85c"},"encoding":{"x":{"datum":655,"type":"quantitative","scale":{"domain":[40,655],"nice":false,"zero":false},"axis":null},"y":{"datum":0,"type":"quantitative","scale":{"domain":[-26,26],"nice":false,"zero":false},"axis":null},"text":{"field":"series"}}}
]},
{"width":615,"height":60,"transform":[{"filter":"datum.s == 6"}],"resolve":{"scale":{"y":"independent"}},"layer":[
 {"mark":{"type":"area","interpolate":"monotone","color":"#77c178"},"encoding":{"x":{"field":"x","type":"quantitative","scale":{"domain":[40,655],"nice":false,"zero":false},"axis":null},"y":{"field":"w","type":"quantitative","scale":{"domain":[-26,26],"nice":false,"zero":false},"axis":null},"y2":{"datum":0}}},
 {"mark":{"type":"area","interpolate":"monotone","color":"#77c178"},"encoding":{"x":{"field":"x","type":"quantitative","scale":{"domain":[40,655],"nice":false,"zero":false},"axis":null},"y":{"field":"w","type":"quantitative","scale":{"domain":[-25.4,26.6],"nice":false,"zero":false,"reverse":true},"axis":null},"y2":{"datum":0}}},
 {"data":{"name":"names"},"transform":[{"filter":"datum.s == 6"}],"mark":{"type":"text","align":"left","baseline":"middle","dx":13,"font":"Liberation Sans Narrow, DejaVu Sans Condensed, sans-serif","fontSize":12,"color":"#5cb85c"},"encoding":{"x":{"datum":655,"type":"quantitative","scale":{"domain":[40,655],"nice":false,"zero":false},"axis":null},"y":{"datum":0,"type":"quantitative","scale":{"domain":[-26,26],"nice":false,"zero":false},"axis":null},"text":{"field":"series"}}}
]},
{"width":615,"height":60,"transform":[{"filter":"datum.s == 7"}],"resolve":{"scale":{"y":"independent"}},"layer":[
 {"mark":{"type":"area","interpolate":"monotone","color":"#e57173"},"encoding":{"x":{"field":"x","type":"quantitative","scale":{"domain":[40,655],"nice":false,"zero":false},"axis":null},"y":{"field":"w","type":"quantitative","scale":{"domain":[-26,26],"nice":false,"zero":false},"axis":null},"y2":{"datum":0}}},
 {"mark":{"type":"area","interpolate":"monotone","color":"#e57173"},"encoding":{"x":{"field":"x","type":"quantitative","scale":{"domain":[40,655],"nice":false,"zero":false},"axis":null},"y":{"field":"w","type":"quantitative","scale":{"domain":[-25.4,26.6],"nice":false,"zero":false,"reverse":true},"axis":null},"y2":{"datum":0}}},
 {"data":{"name":"names"},"transform":[{"filter":"datum.s == 7"}],"mark":{"type":"text","align":"left","baseline":"middle","dx":13,"font":"Liberation Sans Narrow, DejaVu Sans Condensed, sans-serif","fontSize":12,"color":"#e05a5e"},"encoding":{"x":{"datum":655,"type":"quantitative","scale":{"domain":[40,655],"nice":false,"zero":false},"axis":null},"y":{"datum":0,"type":"quantitative","scale":{"domain":[-26,26],"nice":false,"zero":false},"axis":null},"text":{"field":"series"}}}
]},
{"width":615,"height":60,"transform":[{"filter":"datum.s == 8"}],"resolve":{"scale":{"y":"independent"}},"layer":[
 {"mark":{"type":"area","interpolate":"monotone","color":"#e57173"},"encoding":{"x":{"field":"x","type":"quantitative","scale":{"domain":[40,655],"nice":false,"zero":false},"axis":null},"y":{"field":"w","type":"quantitative","scale":{"domain":[-26,26],"nice":false,"zero":false},"axis":null},"y2":{"datum":0}}},
 {"mark":{"type":"area","interpolate":"monotone","color":"#e57173"},"encoding":{"x":{"field":"x","type":"quantitative","scale":{"domain":[40,655],"nice":false,"zero":false},"axis":null},"y":{"field":"w","type":"quantitative","scale":{"domain":[-25.4,26.6],"nice":false,"zero":false,"reverse":true},"axis":null},"y2":{"datum":0}}},
 {"data":{"name":"names"},"transform":[{"filter":"datum.s == 8"}],"mark":{"type":"text","align":"left","baseline":"middle","dx":13,"font":"Liberation Sans Narrow, DejaVu Sans Condensed, sans-serif","fontSize":12,"color":"#e05a5e"},"encoding":{"x":{"datum":655,"type":"quantitative","scale":{"domain":[40,655],"nice":false,"zero":false},"axis":null},"y":{"datum":0,"type":"quantitative","scale":{"domain":[-26,26],"nice":false,"zero":false},"axis":null},"text":{"field":"series"}}}
]},
{"width":615,"height":60,"transform":[{"filter":"datum.s == 9"}],"resolve":{"scale":{"y":"independent"}},"layer":[
 {"mark":{"type":"area","interpolate":"monotone","color":"#b698d5"},"encoding":{"x":{"field":"x","type":"quantitative","scale":{"domain":[40,655],"nice":false,"zero":false},"axis":null},"y":{"field":"w","type":"quantitative","scale":{"domain":[-26,26],"nice":false,"zero":false},"axis":null},"y2":{"datum":0}}},
 {"mark":{"type":"area","interpolate":"monotone","color":"#b698d5"},"encoding":{"x":{"field":"x","type":"quantitative","scale":{"domain":[40,655],"nice":false,"zero":false},"axis":null},"y":{"field":"w","type":"quantitative","scale":{"domain":[-25.4,26.6],"nice":false,"zero":false,"reverse":true},"axis":null},"y2":{"datum":0}}},
 {"data":{"name":"names"},"transform":[{"filter":"datum.s == 9"}],"mark":{"type":"text","align":"left","baseline":"middle","dx":13,"font":"Liberation Sans Narrow, DejaVu Sans Condensed, sans-serif","fontSize":12,"color":"#a985cf"},"encoding":{"x":{"datum":655,"type":"quantitative","scale":{"domain":[40,655],"nice":false,"zero":false},"axis":null},"y":{"datum":0,"type":"quantitative","scale":{"domain":[-26,26],"nice":false,"zero":false},"axis":null},"text":{"field":"series"}}}
]},
{"width":615,"height":60,"transform":[{"filter":"datum.s == 10"}],"resolve":{"scale":{"y":"independent"}},"layer":[
 {"mark":{"type":"area","interpolate":"monotone","color":"#b698d5"},"encoding":{"x":{"field":"x","type":"quantitative","scale":{"domain":[40,655],"nice":false,"zero":false},"axis":null},"y":{"field":"w","type":"quantitative","scale":{"domain":[-26,26],"nice":false,"zero":false},"axis":null},"y2":{"datum":0}}},
 {"mark":{"type":"area","interpolate":"monotone","color":"#b698d5"},"encoding":{"x":{"field":"x","type":"quantitative","scale":{"domain":[40,655],"nice":false,"zero":false},"axis":null},"y":{"field":"w","type":"quantitative","scale":{"domain":[-25.4,26.6],"nice":false,"zero":false,"reverse":true},"axis":null},"y2":{"datum":0}}},
 {"data":{"name":"names"},"transform":[{"filter":"datum.s == 10"}],"mark":{"type":"text","align":"left","baseline":"middle","dx":13,"font":"Liberation Sans Narrow, DejaVu Sans Condensed, sans-serif","fontSize":12,"color":"#a985cf"},"encoding":{"x":{"datum":655,"type":"quantitative","scale":{"domain":[40,655],"nice":false,"zero":false},"axis":null},"y":{"datum":0,"type":"quantitative","scale":{"domain":[-26,26],"nice":false,"zero":false},"axis":null},"text":{"field":"series"}}}
]}
]
}
